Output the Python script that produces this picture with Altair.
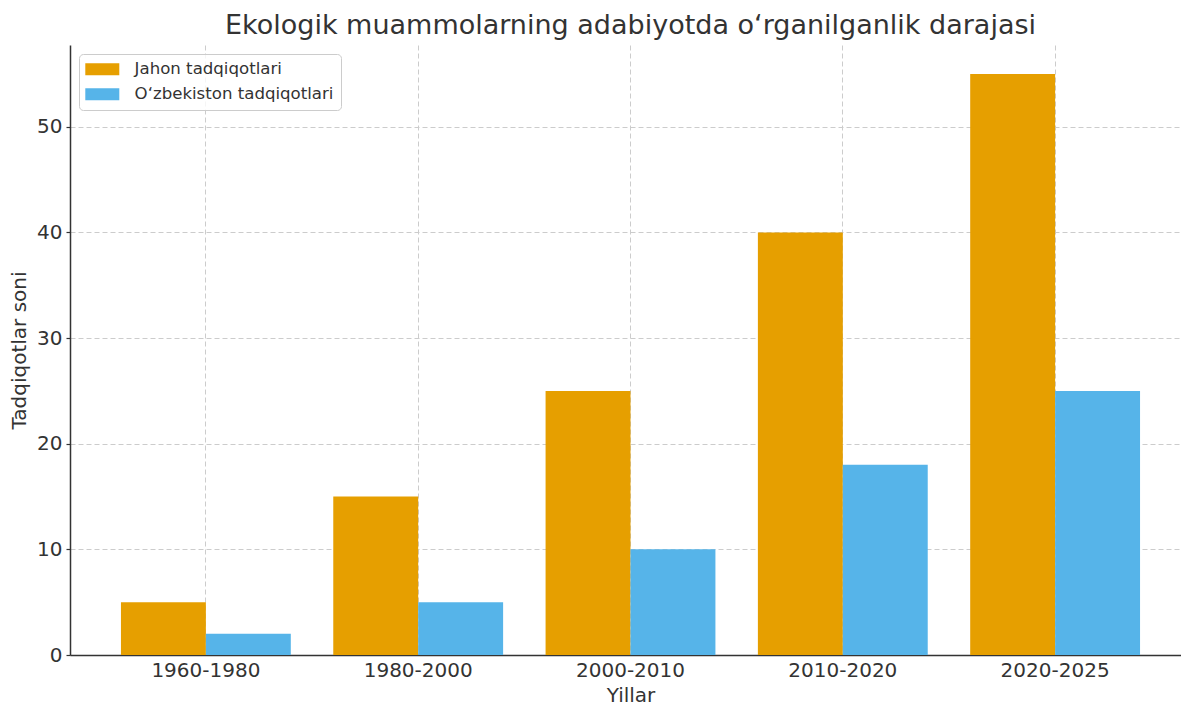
import altair as alt
import pandas as pd

periods = ["1960-1980", "1980-2000", "2000-2010", "2010-2020", "2020-2025"]
series = ["Jahon tadqiqotlari", "O‘zbekiston tadqiqotlari"]
world = [5, 15, 25, 40, 55]
uzbek = [2, 5, 10, 18, 25]
colors = ["#E69F00", "#56B4E9"]
y_ticks = [0, 10, 20, 30, 40, 50]

rows = []
for p, w, u in zip(periods, world, uzbek):
    rows.append({"period": p, "series": series[0], "value": w})
    rows.append({"period": p, "series": series[1], "value": u})
df = pd.DataFrame(rows)

FONT = "DejaVu Sans"
TXT = "#333333"

chart = alt.Chart(df).mark_bar(opacity=1).encode(
    x=alt.X("period:N", sort=periods, title="Yillar",
            scale=alt.Scale(paddingInner=0.2, paddingOuter=0.24),
            axis=alt.Axis(labelAngle=0, ticks=False, bandPosition=0.5,
                          grid=True, labelPadding=5, titlePadding=5)),
    xOffset=alt.XOffset("series:N", sort=series,
                        scale=alt.Scale(paddingInner=0, paddingOuter=0)),
    y=alt.Y("value:Q", title="Tadqiqotlar soni",
            scale=alt.Scale(domain=[0, 57.75], nice=False),
            axis=alt.Axis(values=y_ticks, grid=True, tickSize=4,
                          labelPadding=4, titlePadding=7)),
    color=alt.Color("series:N", sort=series,
                    scale=alt.Scale(domain=series, range=colors),
                    legend=alt.Legend(title=None, orient="none",
                                      legendX=9, legendY=9,
                                      symbolType="M-1.5,-1L4.167,-1L4.167,1L-1.5,1Z",
                                      symbolSize=144,
                                      symbolStrokeWidth=0,
                                      symbolOpacity=1,
                                      rowPadding=8,
                                      labelFontSize=16.6,
                                      labelColor=TXT,
                                      labelFont=FONT,
                                      labelOffset=32,
                                      labelLimit=0,
                                      padding=7,
                                      fillColor="rgba(255,255,255,0.8)",
                                      strokeColor="#cccccc",
                                      cornerRadius=4)),
).properties(
    width=1121,
    height=610,
    title=alt.TitleParams("Ekologik muammolarning adabiyotda o‘rganilganlik darajasi",
                          fontSize=27, font=FONT, color=TXT, fontWeight="normal",
                          anchor="middle", offset=5),
    autosize=alt.AutoSizeParams(type="none"),
    padding={"left": 62, "top": 37, "right": -10, "bottom": 50},
).configure_view(
    stroke=None
).configure_axis(
    labelFont=FONT, titleFont=FONT, labelFontSize=20, titleFontSize=20,
    labelColor=TXT, titleColor=TXT, titleFontWeight="normal",
    domainColor=TXT, domainWidth=1.5, tickColor=TXT, tickWidth=1.2,
    gridColor="#cccccc", gridDash=[5, 3], gridWidth=1, zindex=1,
)

chart.save("out.html", embed_options={"renderer": "svg", "actions": False})
